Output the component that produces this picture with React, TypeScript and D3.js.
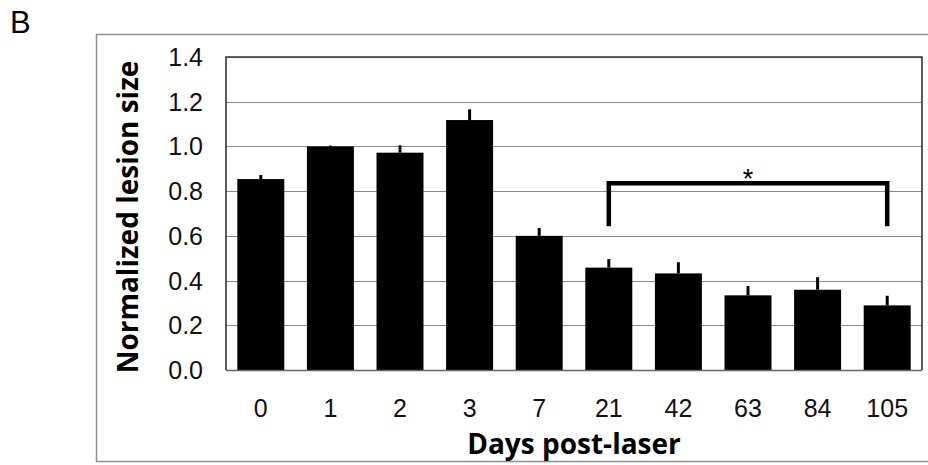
import React from "react";
import * as d3 from "d3";

// values
const days = ["0", "1", "2", "3", "7", "21", "42", "63", "84", "105"];
const lesion = [0.854, 1.0, 0.972, 1.118, 0.6, 0.458, 0.432, 0.334, 0.359, 0.289];
const errUp = [0.018, 0.004, 0.033, 0.048, 0.035, 0.038, 0.05, 0.042, 0.056, 0.043];
const yTicks = [0, 0.2, 0.4, 0.6, 0.8, 1.0, 1.2, 1.4];
const bracket = { from: "21", to: "105", top: 0.835, bottom: 0.643, label: "*" };

const W = 928, H = 465;
const plot = { left: 226, right: 922, top: 57, bottom: 370 };

export default function App() {
  const x = d3.scaleBand()
    .domain(days)
    .range([plot.left, plot.right])
    .paddingInner(0.325)
    .paddingOuter(0.1625);

  const y = d3.scaleLinear()
    .domain([0, 1.4])
    .range([plot.bottom, plot.top]);

  const cx = (d: string) => (x(d) as number) + x.bandwidth() / 2;
  const bx1 = cx(bracket.from), bx2 = cx(bracket.to);

  return (
    <div style={{ position: "fixed", left: 0, top: 0 }}>
      <svg width={W} height={H} style={{ display: "block", background: "#fff" }}>
        <text x={10} y={33} fontFamily="Liberation Sans" fontSize={31}>B</text>

        {/* outer frame */}
        <path d={`M${W + 2},34.5H96.5V461.5H${W + 2}`} fill="none" stroke="#8f8f8f" strokeWidth={1.5} />

        {/* gridlines */}
        {yTicks.map(t => (
          <line key={t} x1={plot.left} x2={plot.right} y1={Math.round(y(t)) + 0.5} y2={Math.round(y(t)) + 0.5}
            stroke="#8a8a8a" strokeWidth={1} />
        ))}

        {/* bars */}
        {days.map((d, i) => (
          <rect key={d} x={x(d)} y={y(lesion[i])} width={x.bandwidth()} height={plot.bottom - y(lesion[i])} fill="#000" />
        ))}

        {/* error bars */}
        {days.map((d, i) => (
          <line key={d} x1={cx(d)} x2={cx(d)} y1={y(lesion[i])} y2={y(lesion[i] + errUp[i])}
            stroke="#000" strokeWidth={3} />
        ))}

        {/* plot border */}
        <path d={`M${plot.left},${plot.bottom}V${plot.top}H${plot.right}V${plot.bottom}`} fill="none" stroke="#333" strokeWidth={1.6} />
        <line x1={plot.left} x2={plot.right} y1={plot.bottom + 0.5} y2={plot.bottom + 0.5} stroke="#666" strokeWidth={1.5} />

        {/* significance bracket */}
        <path d={`M${bx1},${y(bracket.bottom)}V${y(bracket.top)}H${bx2}V${y(bracket.bottom)}`}
          fill="none" stroke="#000" strokeWidth={4.5} />
        <text x={(bx1 + bx2) / 2} y={y(bracket.top) + 5} textAnchor="middle"
          fontFamily="Liberation Sans" fontSize={27}>{bracket.label}</text>

        {/* y tick labels */}
        {yTicks.map(t => (
          <text key={t} x={203} y={y(t)} dy="0.36em" textAnchor="end"
            fontFamily="Liberation Sans" fontSize={25} fill="#111">{d3.format(".1f")(t)}</text>
        ))}

        {/* x tick labels */}
        {days.map(d => (
          <text key={d} x={cx(d)} y={417} textAnchor="middle"
            fontFamily="Liberation Sans" fontSize={25} fill="#111">{d}</text>
        ))}

        {/* axis titles */}
        <text transform={`translate(138,217) rotate(-90)`} textAnchor="middle"
          fontFamily="Open Sans" fontWeight="bold" fontSize={28}>Normalized lesion size</text>
        <text x={(plot.left + plot.right) / 2} y={454} textAnchor="middle"
          fontFamily="Open Sans" fontWeight="bold" fontSize={28}>Days post-laser</text>
      </svg>
    </div>
  );
}
